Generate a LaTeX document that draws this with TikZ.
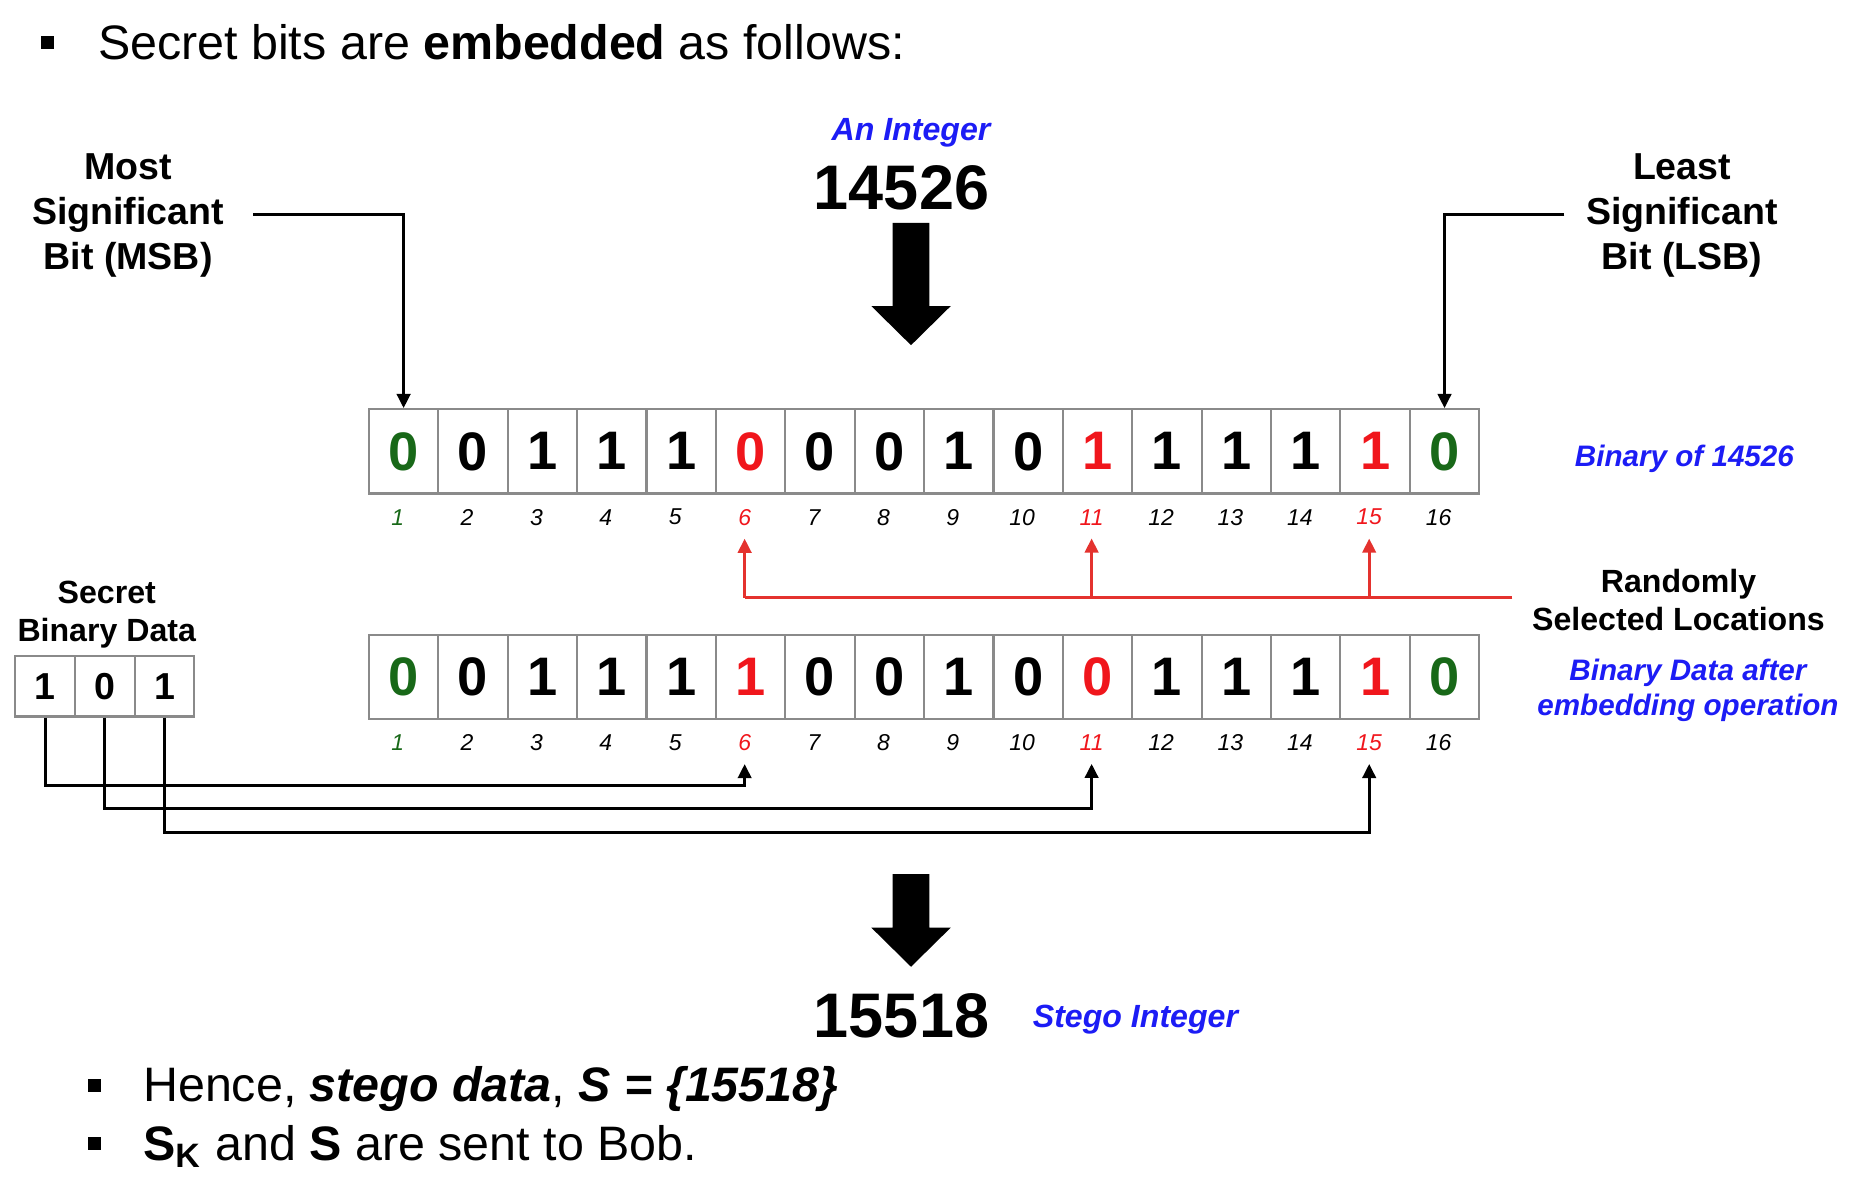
\documentclass[tikz,border=0pt]{standalone}
\usepackage{fontspec}
\setmainfont{Liberation Sans}
\usetikzlibrary{arrows.meta,positioning}
\definecolor{intblue}{RGB}{28,28,245}
\definecolor{bitred}{RGB}{240,22,28}
\definecolor{linered}{RGB}{228,50,46}
\definecolor{bitgreen}{RGB}{24,104,24}
\definecolor{boxgray}{RGB}{138,138,138}
\newcommand{\setfs}[2]{\fontsize{#1pt}{#2pt}\selectfont}

\begin{document}
\begin{tikzpicture}[x=0.01cm,y=-0.01cm,
        bitbox/.style={draw=boxgray,line width=0.5pt,minimum width=0.585cm,minimum height=0.71cm,inner sep=0pt,font=\setfs{13}{15}\bfseries},
        secbox/.style={bitbox,minimum width=0.503cm,minimum height=0.51cm,font=\setfs{9}{11}\bfseries},
        idx/.style={inner sep=3pt,font=\setfs{5.5}{6.6}\itshape},
        note/.style={align=center,font=\setfs{7.7}{9.2}\bfseries},
        bluenote/.style={align=center,text=intblue,font=\setfs{7.1}{8.3}\bfseries\itshape},
        bignum/.style={font=\setfs{15.1}{18}\bfseries},
        bullettext/.style={anchor=base west,inner sep=0pt,font=\setfs{11.6}{14}},
        point/.style={fill,inner sep=0pt,minimum size=0.11cm},
        link/.style={line width=0.75pt,-{Triangle[length=3.4pt,width=3.2pt]}},
        redlink/.style={link,linered},
        pics/bigdown/.style={code={\fill (-15.5,0) -- (15.5,0) -- (15.5,#1) -- (33.5,#1) -- (0,#1+33) -- (-33.5,#1) -- (-15.5,#1) -- cycle;}}]
  \useasboundingbox (0,0) rectangle (1568,1013);

  \node[point] (bul1) at (40,36) {};
  \node[bullettext] (line1) at (82,50) {Secret bits are \textbf{embedded} as follows:};

  \node[note,font=\setfs{9}{10.8}\bfseries] (msb) at (108,182) {Most\\Significant\\Bit (MSB)};
  \node[note,font=\setfs{9}{10.8}\bfseries] (lsb) at (1418,182) {Least\\Significant\\Bit (LSB)};

  \node[bluenote,font=\setfs{7.7}{9.2}\bfseries\itshape] (intlbl) at (768,112) {An Integer};
  \node[bignum] (int) at (760,158) {14526};
  \pic at (768,188) {bigdown=70};

  \foreach \v/\c [count=\i] in {0/bitgreen,0/black,1/black,1/black,1/black,0/bitred,0/black,0/black,1/black,0/black,1/bitred,1/black,1/black,1/black,1/bitred,0/bitgreen}
    \node[bitbox,text=\c] (t\i) at ({311+58.5*(\i-0.5)},380.5) {\v};
  \foreach \v/\c [count=\i] in {0/bitgreen,0/black,1/black,1/black,1/black,1/bitred,0/black,0/black,1/black,0/black,0/bitred,1/black,1/black,1/black,1/bitred,0/bitgreen}
    \node[bitbox,text=\c] (b\i) at ({311+58.5*(\i-0.5)},570.5) {\v};
  \foreach \c [count=\i] in {bitgreen,black,black,black,black,bitred,black,black,black,black,bitred,black,black,black,bitred,black} {
    \node[idx,text=\c] (ti\i) at ({311+58.5*(\i-0.5)-5},436) {\i};
    \node[idx,text=\c] (bi\i) at ({311+58.5*(\i-0.5)-5},626) {\i};
  }

  \draw[link] (msb.east) ++(12,-1) -| (t1.north);
  \draw[link] (lsb.west) ++(-6,-1) -| (t16.north);

  \node[bluenote] (bof) at (1420,387) {Binary of 14526};
  \node[note] (rnd) at (1415,506) {Randomly\\Selected Locations};
  \node[bluenote] (bda) at (1423,582) {Binary Data after\\embedding operation};

  \coordinate (rsel) at (1275,504);
  \draw[linered,line width=0.75pt] (rsel) -- (rsel -| ti6);
  \foreach \k in {6,11,15}
    \draw[redlink] (rsel -| ti\k) -- (ti\k.south);

  \node[note] (sbd) at (90,518) {Secret\\Binary Data};
  \foreach \v [count=\i] in {1,0,1}
    \node[secbox] (s\i) at ({13+50.3*(\i-0.5)},578.5) {\v};

  \draw[link] (s1.south) -- ++(0,57) -| (bi6.south);
  \draw[link] (s2.south) -- ++(0,77) -| (bi11.south);
  \draw[link] (s3.south) -- ++(0,97) -| (bi15.south);

  \pic at (768,737) {bigdown=45};
  \node[bignum] (stego) at (760,856) {15518};
  \node[bluenote,font=\setfs{7.7}{9.2}\bfseries\itshape,anchor=base west,inner sep=0pt] (stlbl) at (870,866) {Stego Integer};

  \node[point] (bul2) at (80,915) {};
  \node[bullettext] (line2) at (120,929) {Hence, \textbf{\textit{stego data}}, \textbf{\textit{S = \{15518\}}}};
  \node[point] (bul3) at (80,964) {};
  \node[bullettext] (line3) at (120,978) {\textbf{S}\textsubscript{\textbf{K}} and \textbf{S} are sent to Bob.};
\end{tikzpicture}
\end{document}
